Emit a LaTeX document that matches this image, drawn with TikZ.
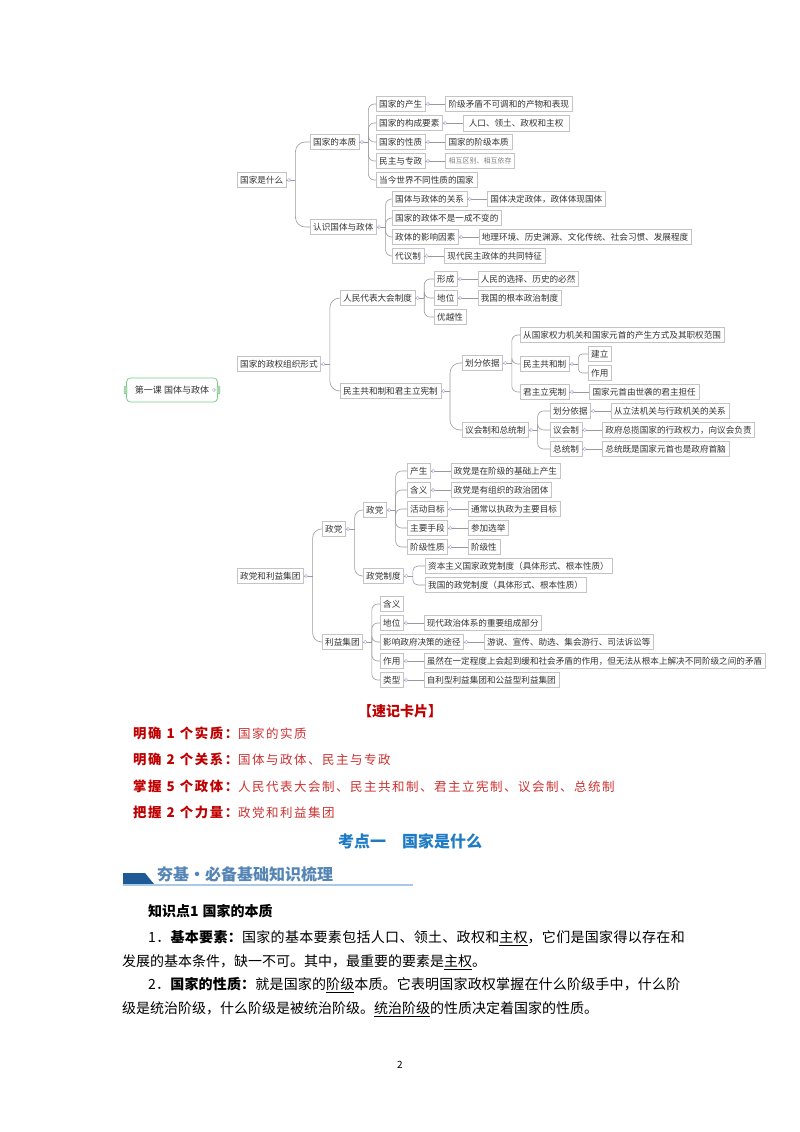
\documentclass[tikz,border=0pt]{standalone}
\usepackage{fontspec}
\setmainfont{Noto Sans CJK SC}
\newfontfamily\cardfont[LetterSpace=12]{Noto Sans CJK SC}
\newfontfamily\bodyjustA[LetterSpace=2.2]{Noto Sans CJK SC}
\newfontfamily\bodyjustB[LetterSpace=1.3]{Noto Sans CJK SC}
\usetikzlibrary{calc,backgrounds}
\definecolor{linegray}{HTML}{9A9A9A}
\definecolor{nodeline}{HTML}{C4C4C4}
\definecolor{handleblue}{HTML}{9AA8D8}
\definecolor{rootgreen}{HTML}{7DCB8B}
\definecolor{cardred}{HTML}{C00000}
\definecolor{cardred2}{HTML}{CC3333}
\definecolor{kaoblue}{HTML}{1F7CC4}
\definecolor{barblue}{HTML}{1E5A96}
\definecolor{titleblue}{HTML}{5585B5}
\definecolor{ruleblue}{HTML}{A9C9E6}
\newcommand\mmfont{\fontsize{8.6}{10}\selectfont}
\newcommand\mmsmallfont{\fontsize{7}{9}\selectfont}
\newcommand\cardlabel[2]{\textcolor{cardred}{\fontsize{13.4}{15}\bfseries #1\hspace{5pt}#2\hspace{5pt}}}
\newcommand\mmbranch[3][6pt]{%
  \coordinate (#2J) at ([xshift=9pt]#2.east);
  \draw[conn] (#2.east) -- (#2J);
  \foreach \ch in {#3} {\draw[conn, rounded corners=#1] (#2J) |- (\ch.west);}
  \node[handle] (#2H) at ([xshift=2.5pt]#2.east) {};}
\newcommand\mmleaf[3][]{%
  \node[mm,#1] (#2L) at ([xshift=20pt]#2.east) {#3};
  \draw[conn] (#2.east) -- (#2L.west);
  \node[handle] (#2H) at ([xshift=2.5pt]#2.east) {};}
\begin{document}
\begin{tikzpicture}[x=1pt,y=-1pt,
  mm/.style={draw=nodeline, line width=0.4pt, fill=white, inner xsep=3pt, inner ysep=0pt, minimum height=15pt, anchor=west, font=\mmfont, text=black!80},
  mmsmall/.style={font=\mmsmallfont, text=gray},
  conn/.style={draw=linegray, line width=0.6pt},
  handle/.style={circle, draw=handleblue, fill=white, line width=0.4pt, inner sep=0pt, minimum size=3.2pt},
  rootbox/.style={draw=rootgreen, line width=0.8pt, rounded corners=4pt, fill=white, minimum width=91pt, minimum height=24pt, font=\fontsize{9}{11}\selectfont, text=black!80},
  gtab/.style={fill=rootgreen!70, draw=rootgreen, rounded corners=1pt, minimum width=3pt, minimum height=8pt, inner sep=0pt},
  cardline/.style={anchor=west, inner sep=0pt, font=\fontsize{12.5}{15}\cardfont},
  body/.style={anchor=west, inner sep=0pt, font=\fontsize{14}{16}\selectfont, text=black}]
\useasboundingbox (0,0) rectangle (800,1132);
\fill[white] (0,0) rectangle (800,1132);

% ---------- mind map ----------
\node[rootbox] (R) at (172,390) {第一课 国体与政体};
\node[gtab] (Rtl) at (125.5,390) {};
\node[gtab] (Rtr) at (218.5,390) {};

\node[mm] (A) at (237,180) {国家是什么};
\node[mm] (B) at (237,364) {国家的政权组织形式};
\node[mm] (C) at (237,576) {政党和利益集团};

\node[mm] (A1) at (310,142) {国家的本质};
\node[mm] (A2) at (310,227) {认识国体与政体};
\node[mm] (A11) at (376,104) {国家的产生};
\node[mm] (A12) at (376,123) {国家的构成要素};
\node[mm] (A13) at (376,142) {国家的性质};
\node[mm] (A14) at (376,161) {民主与专政};
\node[mm] (A15) at (376,180) {当今世界不同性质的国家};
\node[mm] (A21) at (392,199) {国体与政体的关系};
\node[mm] (A22) at (392,218) {国家的政体不是一成不变的};
\node[mm] (A23) at (392,237) {政体的影响因素};
\node[mm] (A24) at (392,256) {代议制};

\node[mm] (B1) at (340,298) {人民代表大会制度};
\node[mm] (B2) at (340,391) {民主共和制和君主立宪制};
\node[mm] (B11) at (434,279) {形成};
\node[mm] (B12) at (434,298) {地位};
\node[mm] (B13) at (434,317) {优越性};
\node[mm] (B21) at (462,363) {划分依据};
\node[mm] (B22) at (462,430) {议会制和总统制};
\node[mm] (B211) at (520,335) {从国家权力机关和国家元首的产生方式及其职权范围};
\node[mm] (B212) at (520,364) {民主共和制};
\node[mm] (B213) at (520,392) {君主立宪制};
\node[mm] (B2121) at (588,354) {建立};
\node[mm] (B2122) at (588,373) {作用};
\node[mm] (B221) at (550,411) {划分依据};
\node[mm] (B222) at (550,430) {议会制};
\node[mm] (B223) at (550,449) {总统制};

\node[mm] (C1) at (322,529) {政党};
\node[mm] (C2) at (322,642) {利益集团};
\node[mm] (C11) at (363,510) {政党};
\node[mm] (C12) at (363,576) {政党制度};
\node[mm] (C111) at (407,471) {产生};
\node[mm] (C112) at (407,490) {含义};
\node[mm] (C113) at (407,509) {活动目标};
\node[mm] (C114) at (407,528) {主要手段};
\node[mm] (C115) at (407,547) {阶级性质};
\node[mm] (C121) at (425,566) {资本主义国家政党制度（具体形式、根本性质）};
\node[mm] (C122) at (425,585) {我国的政党制度（具体形式、根本性质）};
\node[mm] (C21) at (380,604) {含义};
\node[mm] (C22) at (380,623) {地位};
\node[mm] (C23) at (380,642) {影响政府决策的途径};
\node[mm] (C24) at (380,661) {作用};
\node[mm] (C25) at (380,680) {类型};

% trunk from root
\begin{scope}[on background layer]
\coordinate (RJ) at ([xshift=-7pt]R.east);
\draw[conn] (RJ) -- ($(A.west -| RJ)+(0,90)$) .. controls ($(A.west -| RJ)+(0,25)$) and ($(A.west -| RJ)+(8,0)$) .. (A.west);
\draw[conn] (RJ) -- ($(B.west -| RJ)+(0,18)$) .. controls ($(B.west -| RJ)+(0,4)$) and ($(B.west -| RJ)+(8,0)$) .. (B.west);
\draw[conn] (RJ) -- ($(C.west -| RJ)+(0,-80)$) .. controls ($(C.west -| RJ)+(0,-25)$) and ($(C.west -| RJ)+(8,0)$) .. (C.west);
\end{scope}
\node[handle] (RH) at ([xshift=-4pt]R.east) {};

\mmbranch[10pt]{A}{A1,A2}
\mmbranch{A1}{A11,A12,A13,A14,A15}
\mmbranch{A2}{A21,A22,A23,A24}
\mmbranch[10pt]{B}{B1,B2}
\mmbranch{B1}{B11,B12,B13}
\mmbranch[10pt]{B2}{B21,B22}
\mmbranch{B21}{B211,B212,B213}
\mmbranch[4pt]{B212}{B2121,B2122}
\mmbranch{B22}{B221,B222,B223}
\mmbranch[9pt]{C}{C1,C2}
\mmbranch[8pt]{C1}{C11,C12}
\mmbranch{C11}{C111,C112,C113,C114,C115}
\mmbranch[5pt]{C12}{C121,C122}
\mmbranch{C2}{C21,C22,C23,C24,C25}

\mmleaf{A11}{阶级矛盾不可调和的产物和表现}
\mmleaf[inner xsep=6pt, minimum height=16pt]{A12}{人口、领土、政权和主权}
\mmleaf{A13}{国家的阶级本质}
\mmleaf[mmsmall]{A14}{相互区别、相互依存}
\mmleaf{A21}{国体决定政体，政体体现国体}
\mmleaf{A23}{地理环境、历史渊源、文化传统、社会习惯、发展程度}
\mmleaf{A24}{现代民主政体的共同特征}
\mmleaf{B11}{人民的选择、历史的必然}
\mmleaf{B12}{我国的根本政治制度}
\mmleaf{B213}{国家元首由世袭的君主担任}
\mmleaf{B221}{从立法机关与行政机关的关系}
\mmleaf{B222}{政府总揽国家的行政权力，向议会负责}
\mmleaf{B223}{总统既是国家元首也是政府首脑}
\mmleaf{C111}{政党是在阶级的基础上产生}
\mmleaf{C112}{政党是有组织的政治团体}
\mmleaf{C113}{通常以执政为主要目标}
\mmleaf{C114}{参加选举}
\mmleaf{C115}{阶级性}
\mmleaf{C22}{现代政治体系的重要组成部分}
\mmleaf{C23}{游说、宣传、助选、集会游行、司法诉讼等}
\mmleaf{C24}{虽然在一定程度上会起到缓和社会矛盾的作用，但无法从根本上解决不同阶级之间的矛盾}
\mmleaf{C25}{自利型利益集团和公益型利益集团}

% ---------- card ----------
\node[font=\fontsize{14}{16}\selectfont\bfseries, text=cardred] (card) at (400,711) {【速记卡片】};
\node[cardline] (k1) at (133,733) {\cardlabel{明确}{1}\textcolor{cardred}{\fontsize{13.4}{15}\bfseries 个实质：}\textcolor{cardred2}{国家的实质}};
\node[cardline] (k2) at (133,759) {\cardlabel{明确}{2}\textcolor{cardred}{\fontsize{13.4}{15}\bfseries 个关系：}\textcolor{cardred2}{国体与政体、民主与专政}};
\node[cardline] (k3) at (133,786) {\cardlabel{掌握}{5}\textcolor{cardred}{\fontsize{13.4}{15}\bfseries 个政体：}\textcolor{cardred2}{人民代表大会制、民主共和制、君主立宪制、议会制、总统制}};
\node[cardline] (k4) at (133,812) {\cardlabel{把握}{2}\textcolor{cardred}{\fontsize{13.4}{15}\bfseries 个力量：}\textcolor{cardred2}{政党和利益集团}};

\node[font=\fontsize{16}{18}\selectfont\bfseries, text=kaoblue] (kd) at (410,841) {考点一\quad 国家是什么};

% ---------- section header ----------
\fill[barblue] (123,873) -- (145,873) -- (154,884) -- (123,884) -- cycle;
\draw[ruleblue, line width=1.4pt] (123,885) -- (413,885);
\node[anchor=west, inner sep=0pt, font=\fontsize{16}{18}\selectfont\bfseries, text=titleblue] (hd) at (157,874) {夯基·必备基础知识梳理};

% ---------- body ----------
\node[body] (kp) at (148,911) {\textbf{知识点1\hspace{4pt}国家的本质}};
\node[body, font=\fontsize{14}{16}\bodyjustA] (p1) at (148,938) {1．\textbf{基本要素：}国家的基本要素包括人口、领土、政权和\underline{主权}，它们是国家得以存在和};
\node[body] (p2) at (122,962) {发展的基本条件，缺一不可。其中，最重要的要素是\underline{主权}。};
\node[body, font=\fontsize{14}{16}\bodyjustB] (p3) at (148,985) {2．\textbf{国家的性质：}就是国家的\underline{阶级}本质。它表明国家政权掌握在什么阶级手中，什么阶};
\node[body] (p4) at (122,1009) {级是统治阶级，什么阶级是被统治阶级。\underline{统治阶级}的性质决定着国家的性质。};

\node[font=\fontsize{10}{12}\selectfont] (pg) at (400,1065) {2};
\end{tikzpicture}
\end{document}
